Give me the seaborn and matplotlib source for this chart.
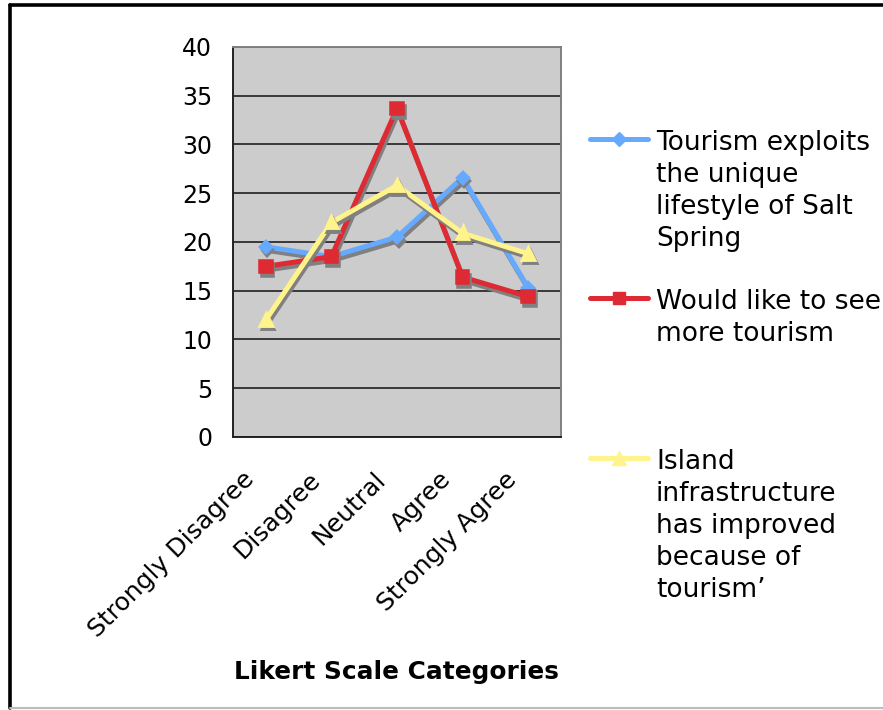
import numpy as np
import pandas as pd
import matplotlib
matplotlib.use("Agg")
import matplotlib.pyplot as plt
import matplotlib.patheffects as pe
import matplotlib.transforms as mtransforms
from matplotlib.lines import Line2D
import seaborn as sns

categories = ["Strongly Disagree", "Disagree", "Neutral", "Agree", "Strongly Agree"]
exploits = [19.5, 18.5, 20.5, 26.6, 15.3]
more_tourism = [17.5, 18.5, 33.7, 16.4, 14.4]
infrastructure = [12.0, 22.0, 25.8, 20.9, 18.8]
series_names = ["Tourism exploits\nthe unique\nlifestyle of Salt\nSpring",
                "Would like to see\nmore tourism",
                "Island\ninfrastructure\nhas improved\nbecause of\ntourism\u2019"]
y_ticks = [0, 5, 10, 15, 20, 25, 30, 35, 40]
x_label = "Likert Scale Categories"

colors = ["#66aaff", "#dd2a33", "#fff38c"]
markers = ["D", "s", "^"]

df = pd.DataFrame({
    "category": categories * 3,
    "value": exploits + more_tourism + infrastructure,
    "series": [series_names[0]] * 5 + [series_names[1]] * 5 + [series_names[2]] * 5,
})

sns.set_style("white")
plt.rcParams["font.family"] = ["DejaVu Sans"]
plt.rcParams["text.color"] = "black"
plt.rcParams["xtick.color"] = "black"
plt.rcParams["ytick.color"] = "black"
plt.rcParams["axes.labelcolor"] = "black"

W, H = 883, 710
fig = plt.figure(figsize=(W / 100, H / 100), dpi=100)
ax = fig.add_axes([233 / W, 1 - 437 / H, (561 - 233) / W, (437 - 47) / H])
ax.set_facecolor("#cccccc")

sns.lineplot(data=df, x="category", y="value", hue="series", style="series",
             palette=dict(zip(series_names, colors)),
             markers=dict(zip(series_names, markers)), dashes=False,
             sort=False, legend=False, ax=ax, linewidth=3.6)

msizes = [5, 7, 7]
mews = [3, 4, 3.5]
for ln, c, ms, mw in zip(ax.lines, colors, msizes, mews):
    ln.set_markersize(ms)
    ln.set_markeredgewidth(mw)
    ln.set_markeredgecolor(c)
    ln.set_markerfacecolor(c)
    ln.set_solid_joinstyle("miter")
    ln.set_zorder(3)
    ln.set_path_effects([pe.SimpleLineShadow(offset=(1.2, -2.6), shadow_color="#808080", alpha=1.0),
                         pe.Normal()])

ax.set_xlim(-0.5, 4.5)
ax.set_ylim(0, 40)
ax.set_yticks(y_ticks)
ax.set_yticklabels([str(v) for v in y_ticks])
ax.yaxis.grid(True, color="#111111", linewidth=1.1)
ax.set_axisbelow(True)

ax.set_xticks(range(len(categories)))
ax.set_xticks(np.arange(-0.5, 5.0, 1.0), minor=True)
ax.tick_params(axis="x", which="major", length=0, pad=28)
ax.tick_params(axis="x", which="minor", length=7, width=1.2, color="#333333", direction="out")
ax.tick_params(axis="y", length=7, width=1.2, color="#333333", direction="out", labelsize=17, pad=8)
ax.set_xticklabels(categories, rotation=45, ha="right", va="center",
                   rotation_mode="anchor", fontsize=18)
offset = mtransforms.ScaledTranslation(-15 / 100, 0, fig.dpi_scale_trans)
for tick in ax.xaxis.get_major_ticks():
    tick.label1.set_transform(tick.label1.get_transform() + offset)

for s in ["left", "bottom", "top", "right"]:
    ax.spines[s].set_visible(True)
ax.spines["left"].set_color("#222222")
ax.spines["bottom"].set_color("#222222")
ax.spines["top"].set_color("#808080")
ax.spines["right"].set_color("#808080")
for s in ax.spines.values():
    s.set_linewidth(1.4)

ax.set_xlabel("")
ax.set_ylabel("")
fig.text(396 / W, 1 - 672 / H, x_label, ha="center", va="center",
         fontsize=17.8, fontweight="bold")

tops = [130, 289, 449]
for name, c, m, t, ms in zip(series_names, colors, markers, tops, [7, 9, 10]):
    h = Line2D([], [], color=c, lw=3.6, marker=m, markersize=ms, markeredgecolor=c)
    leg = fig.legend(handles=[h], labels=[name], loc="upper left",
                     bbox_to_anchor=(590 / W, 1 - t / H), bbox_transform=fig.transFigure,
                     frameon=False, borderpad=0, borderaxespad=0, handlelength=2.2,
                     handletextpad=0.3, fontsize=19, numpoints=1)
    for col in leg._legend_handle_box.get_children():
        for item in col.get_children():
            item.align = "top"
    for tx in leg.get_texts():
        tx.set_linespacing(1.3)
        tx.set_color("black")

fig.add_artist(Line2D([10 / W, 10 / W], [0.003, 1 - 5 / H], transform=fig.transFigure,
                      color="black", lw=2.6))
fig.add_artist(Line2D([10 / W, 1.0], [1 - 5 / H, 1 - 5 / H], transform=fig.transFigure,
                      color="black", lw=2.6))
fig.add_artist(Line2D([10 / W, 1.0], [1 - 708 / H, 1 - 708 / H], transform=fig.transFigure,
                      color="#bbbbbb", lw=1.5))

fig.savefig("out.png", dpi=100)
